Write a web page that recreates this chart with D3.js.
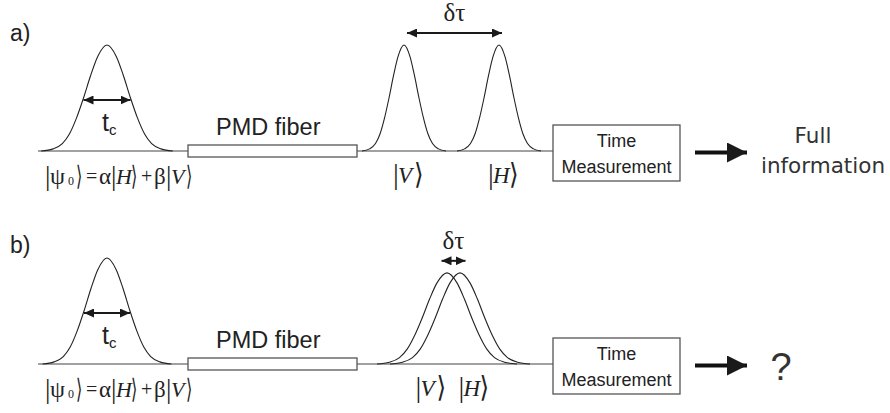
<!DOCTYPE html>
<html>
<head>
<meta charset="utf-8">
<script src="https://cdn.jsdelivr.net/npm/d3@7"></script>
<style>
  html, body { margin: 0; padding: 0; background: #fff; }
  svg { display: block; }
</style>
</head>
<body>
<svg id="chart" width="890" height="413"></svg>
<script>
// ---------------- data ----------------
const panelLabels   = ["a)", "b)"];
const inputCenters  = [107, 107];      // time position of the input pulse
const inputWidths   = [23.5, 23];      // half width at half maximum
const inputAmps     = [1, 1];
const outCentersV   = [404, 447];      // |V> output pulse position
const outCentersH   = [499, 460];      // |H> output pulse position
const outWidths     = [15, 25];
const outAmps       = [1, 0.86];
const outcomeLines  = [["Full", "information"], ["?"]];
const boxLines      = ["Time", "Measurement"];
const fiberLabel    = "PMD fiber";
const ketLabels     = ["V", "H"];
// normalised pulse profile: [offset in half-widths, relative intensity]
const pulseProfile = [
  [-2.8, 0], [-2.3, 0.02], [-1.9, 0.07], [-1.6, 0.16], [-1.3, 0.31], [-1.0, 0.5],
  [-0.7, 0.71], [-0.4, 0.89], [0, 1], [0.4, 0.89], [0.7, 0.71], [1.0, 0.5],
  [1.3, 0.31], [1.6, 0.16], [1.9, 0.07], [2.3, 0.02], [2.8, 0]
];
// input state |ψ0⟩ = α|H⟩ + β|V⟩ : kets given as [content, subscript]
const formulaParts = [["ψ", "0"], "=", "α", ["H"], "+", "β", ["V"]];

// ---------------- layout ----------------
const SANS = "'Liberation Sans', Arial, Helvetica, sans-serif";
const SERIF = "'Liberation Serif', 'Times New Roman', 'DejaVu Serif', serif";
const svg = d3.select("#chart");
const ink = "#222";
const x = d3.scaleLinear().domain([0, 890]).range([0, 890]);
const panelBase = d3.scaleOrdinal().domain([0, 1]).range([151, 364]);
const pulseHeight = 106;

const lineStart = 38, fiberX0 = 188, fiberX1 = 357, boxX0 = 553, boxX1 = 680;

// draws a ket |content⟩ ; returns right edge
function ket(parent, content, x0, yb, italic, width, o) {
  const kg = parent.append("g").attr("font-family", SERIF).attr("fill", ink);
  const t = kg.append("text").attr("y", yb);
  t.append("tspan").attr("x", x0).attr("y", yb + 1).attr("font-size", o.bar).text("|");
  t.append("tspan").attr("x", x0 + 5).attr("y", yb).attr("font-size", italic ? o.letter : 24)
    .attr("font-style", italic ? "italic" : null).text(content[0]);
  if (content[1]) {
    t.append("tspan").attr("x", x0 + 23).attr("y", yb + 1).attr("font-size", 12).text(content[1]);
  }
  kg.append("text").attr("transform", `translate(${x0 + width},${yb + 1}) scale(${o.sx},1)`)
    .attr("font-size", o.bar).text("⟩");
  return x0 + width + 6;
}

// arrow markers
const defs = svg.append("defs");
function marker(id, len, half, orient) {
  defs.append("marker")
    .attr("id", id)
    .attr("markerUnits", "userSpaceOnUse")
    .attr("viewBox", `0 ${-half} ${len} ${2 * half}`)
    .attr("refX", len).attr("refY", 0)
    .attr("markerWidth", len).attr("markerHeight", 2 * half)
    .attr("orient", orient)
    .append("path")
    .attr("d", `M0,${-half}L${len},0L0,${half}Z`)
    .attr("fill", "#1a1a1a");
}
marker("headS", 10, 4.5, "auto-start-reverse");
marker("bigHead", 20, 10, "auto");

const line = d3.line().curve(d3.curveMonotoneX);

panelLabels.forEach((lab, i) => {
  const base = panelBase(i);
  const y = d3.scaleLinear().domain([0, 1]).range([base, base - pulseHeight]);
  const g = svg.append("g");

  // panel label
  g.append("text").attr("font-family", SANS)
    .attr("x", 10).attr("y", base - 110 + (i ? -1 : 0))
    .attr("font-size", 23).attr("fill", ink).text(lab);

  // baselines
  g.append("line").attr("x1", x(lineStart)).attr("x2", x(fiberX0))
    .attr("y1", base).attr("y2", base).attr("stroke", "#444").attr("stroke-width", 1.1);
  g.append("line").attr("x1", x(fiberX1)).attr("x2", x(boxX0))
    .attr("y1", base).attr("y2", base).attr("stroke", "#444").attr("stroke-width", 1.1);

  // pulses
  function pulse(c, w, a) {
    return line(pulseProfile.map(([u, h]) => [x(c + u * w), y(h * a)]));
  }
  const pulses = [
    [inputCenters[i], inputWidths[i], inputAmps[i]],
    [outCentersV[i], outWidths[i], outAmps[i]],
    [outCentersH[i], outWidths[i], outAmps[i]]
  ];
  g.selectAll("path.pulse").data(pulses).join("path")
    .attr("class", "pulse")
    .attr("d", d => pulse(...d))
    .attr("fill", "none").attr("stroke", "#222").attr("stroke-width", 1.1);

  // t_c arrow (FWHM of input pulse)
  const ic = inputCenters[i], iw = inputWidths[i];
  g.append("line")
    .attr("x1", x(ic - iw)).attr("x2", x(ic + iw))
    .attr("y1", y(0.5 * inputAmps[i]) + 2).attr("y2", y(0.5 * inputAmps[i]) + 2)
    .attr("stroke", "#1a1a1a").attr("stroke-width", 2)
    .attr("marker-start", "url(#headS)").attr("marker-end", "url(#headS)");
  const tc = g.append("text").attr("font-family", SANS)
    .attr("x", x(ic) - 5).attr("y", base - 20).attr("fill", ink).attr("font-size", 25);
  tc.append("tspan").text("t");
  tc.append("tspan").attr("font-size", 15).attr("dy", 4).text("c");

  // PMD fiber
  g.append("rect").attr("x", x(fiberX0)).attr("y", base - 6)
    .attr("width", x(fiberX1) - x(fiberX0)).attr("height", 12)
    .attr("fill", "#fff").attr("stroke", "#555").attr("stroke-width", 1.3);
  g.append("text").attr("font-family", SANS)
    .attr("x", x(216)).attr("y", base - 16)
    .attr("font-size", 23.5).attr("fill", ink).text(fiberLabel);

  // input state formula
  const fy = base + 33;
  const fOpts = { bar: 27, letter: 22, sx: 0.6 };
  let cx = x(45);
  formulaParts.forEach(p => {
    if (Array.isArray(p)) {
      const w = p[1] ? 31 : 20;
      cx = ket(g, p, cx, fy, p[0] === "H" || p[0] === "V", w, fOpts);
    } else {
      const isOp = p === "=" || p === "+";
      g.append("text").attr("font-family", SERIF).attr("fill", ink)
        .attr("x", cx + (isOp ? 4 : 0)).attr("y", fy - (isOp ? 1 : 0))
        .attr("font-size", isOp ? 20 : 23).text(p);
      cx += isOp ? 17 : 12;
    }
  });

  // delta tau arrow
  const cV = outCentersV[i], cH = outCentersH[i];
  let a1 = cV, a2 = cH;
  if (a2 - a1 < 24) { const m = (a1 + a2) / 2; a1 = m - 12; a2 = m + 12; }
  else { a1 += 3; a2 += 3; }
  const ay = y(outAmps[i]) - 12;
  g.append("line")
    .attr("x1", x(a1)).attr("x2", x(a2)).attr("y1", ay).attr("y2", ay)
    .attr("stroke", "#1a1a1a").attr("stroke-width", 2)
    .attr("marker-start", "url(#headS)").attr("marker-end", "url(#headS)");
  g.append("text").attr("font-family", SERIF)
    .attr("x", x((a1 + a2) / 2)).attr("y", ay - 12).attr("text-anchor", "middle")
    .attr("font-size", 25).attr("fill", ink).text("δτ");

  // output kets (each ket ~ 34 px wide)
  const separated = cH - cV > 40;
  const kOpts = { bar: 29, letter: 23, sx: 0.85 };
  ketLabels.forEach((k, j) => {
    const c = j === 0 ? cV : cH;
    let x0;
    if (separated) x0 = x(c + 6) - 17;
    else {
      const m = (cV + cH) / 2;
      x0 = j === 0 ? x(m - 5) - 33 : x(m + 5);
    }
    ket(g, [k], x0, base + 32, true, 21, kOpts);
  });

  // time measurement box
  g.append("rect").attr("x", x(boxX0)).attr("y", base - 26)
    .attr("width", x(boxX1) - x(boxX0)).attr("height", 56)
    .attr("fill", "#fff").attr("stroke", "#555").attr("stroke-width", 1.3);
  g.selectAll("text.box").data(boxLines).join("text")
    .attr("class", "box").attr("font-family", SANS)
    .attr("x", x((boxX0 + boxX1) / 2)).attr("y", (d, k) => base - 4 + k * 26)
    .attr("text-anchor", "middle").attr("font-size", 18).attr("fill", ink)
    .text(d => d);

  // result arrow
  g.append("line").attr("x1", x(695)).attr("x2", x(747))
    .attr("y1", base + 1.5).attr("y2", base + 1.5)
    .attr("stroke", "#111").attr("stroke-width", 4)
    .attr("marker-end", "url(#bigHead)");

  // outcome text
  const lines = outcomeLines[i];
  if (lines.length === 2) {
    g.append("text").attr("x", x(813)).attr("y", base - 8).attr("text-anchor", "middle")
      .attr("font-family", "'DejaVu Sans', sans-serif").attr("font-size", 21.5).attr("fill", "#333")
      .text(lines[0]);
    g.append("text").attr("x", x(823)).attr("y", base + 22).attr("text-anchor", "middle")
      .attr("font-family", "'DejaVu Sans', sans-serif").attr("font-size", 21.5).attr("fill", "#333")
      .text(lines[1]);
  } else {
    g.append("text").attr("font-family", SANS).attr("x", x(781)).attr("y", base + 16)
      .attr("text-anchor", "middle").attr("font-size", 38).attr("fill", "#333")
      .text(lines[0]);
  }
});
</script>
</body>
</html>
